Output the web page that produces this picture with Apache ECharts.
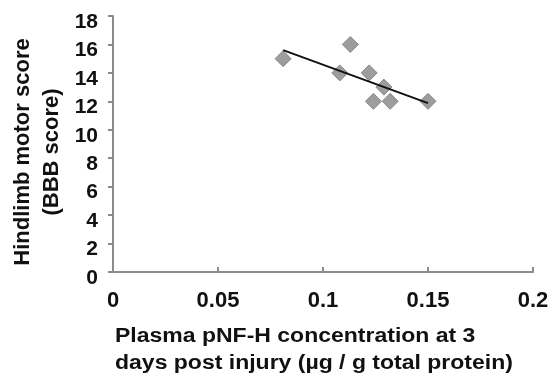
<!DOCTYPE html>
<html>
<head>
<meta charset="utf-8">
<script src="https://cdn.jsdelivr.net/npm/echarts@6/dist/echarts.min.js"></script>
<style>
  html, body { margin: 0; padding: 0; background: #fff; }
  #chart { width: 553px; height: 374px; }
</style>
</head>
<body>
<div id="chart"></div>
<script>
// pNF-H concentration (x) vs BBB score (y)
const concentration = [0.081, 0.113, 0.108, 0.122, 0.129, 0.124, 0.132, 0.150];
const bbbScore = [15, 16, 14, 14, 13, 12, 12, 12];
const xTicks = [0, 0.05, 0.1, 0.15, 0.2];
const yTicks = [0, 2, 4, 6, 8, 10, 12, 14, 16, 18];

// least squares trend line over the data range
const n = concentration.length;
const mx = concentration.reduce((a, b) => a + b, 0) / n;
const my = bbbScore.reduce((a, b) => a + b, 0) / n;
let sxy = 0, sxx = 0;
concentration.forEach((x, i) => {
  sxy += (x - mx) * (bbbScore[i] - my);
  sxx += (x - mx) * (x - mx);
});
const slope = sxy / sxx;
const icpt = my - slope * mx;
const xMin = Math.min(...concentration), xMax = Math.max(...concentration);
const trend = [[xMin, icpt + slope * xMin], [xMax, icpt + slope * xMax]];

const font = "'Liberation Sans', Arial, sans-serif";
const chart = echarts.init(document.getElementById("chart"));
chart.setOption({
  animation: false,
  grid: { left: 113, right: 20, top: 16, bottom: 102 },
  xAxis: {
    type: "value",
    min: 0, max: 0.2, interval: 0.05,
    splitLine: { show: false },
    axisLine: { lineStyle: { color: "#8c8c8c", width: 2 } },
    axisTick: { inside: true, length: 5, lineStyle: { color: "#8c8c8c", width: 2 } },
    axisLabel: {
      margin: 18, color: "#111", fontSize: 22, fontWeight: "bold", fontFamily: font,
      formatter: (v) => String(parseFloat(v.toFixed(2)))
    }
  },
  yAxis: {
    type: "value",
    min: 0, max: 18, interval: 2,
    splitLine: { show: false },
    axisLine: { show: true, lineStyle: { color: "#8c8c8c", width: 2 } },
    axisTick: { show: true, length: 5, lineStyle: { color: "#8c8c8c", width: 2 } },
    axisLabel: {
      margin: 15,
      formatter: (v) => "{a|" + v + "}",
      rich: {
        a: { color: "#111", fontSize: 21, fontWeight: "bold", fontFamily: font, padding: [12, 0, 0, 0] }
      }
    }
  },
  graphic: [
    {
      type: "text", x: 37, y: 152, rotation: Math.PI / 2,
      style: {
        text: "Hindlimb motor score\n(BBB score)", align: "center", verticalAlign: "middle",
        font: "bold 22px " + font, fill: "#111", lineHeight: 29
      }
    },
    {
      type: "text", x: 115, y: 323, scaleX: 1.15,
      style: {
        text: "Plasma pNF-H concentration at 3\ndays post injury (\u00b5g / g total protein)",
        font: "bold 20px " + font, fill: "#111", lineHeight: 27
      }
    }
  ],
  series: [
    {
      type: "scatter",
      data: concentration.map((x, i) => [x, bbbScore[i]]),
      symbol: "diamond", symbolSize: [16, 16],
      itemStyle: { color: "#848484", borderColor: "#777", borderWidth: 1 },
      z: 2
    },
    {
      type: "line",
      data: trend,
      symbol: "none",
      lineStyle: { color: "#111", width: 2 },
      z: 3
    }
  ]
});
</script>
</body>
</html>
